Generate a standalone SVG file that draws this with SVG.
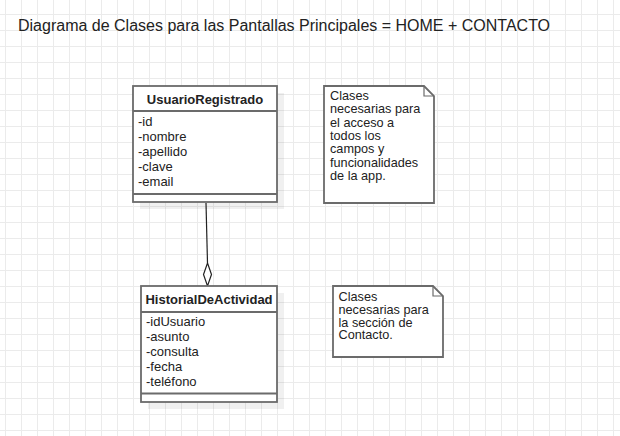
<svg xmlns="http://www.w3.org/2000/svg" width="620" height="436" viewBox="0 0 620 436">
<style>
text{font-family:"Liberation Sans",Arial,sans-serif;fill:#222}
.t{font-size:16px}
.h{font-size:13px;font-weight:bold;text-anchor:middle}
.a{font-size:13px}
.n{font-size:12.7px}
.box{fill:#fff;stroke:#6b6b6b;stroke-width:1.8}
.sh{fill:#000;fill-opacity:0.06}
.ln{fill:none;stroke:#6b6b6b;stroke-width:1.8}
.con{fill:none;stroke:#222;stroke-width:1.2}
</style>
<defs>
<pattern id="grid" patternUnits="userSpaceOnUse" x="5" y="14" width="16" height="16">
<rect x="0" y="0" width="16" height="1" fill="#ebebeb"/>
<rect x="0" y="0" width="1" height="16" fill="#ebebeb"/>
</pattern>
</defs>
<rect width="620" height="436" fill="#fff"/>
<rect width="620" height="436" fill="url(#grid)"/>
<text class="t" x="18" y="31">Diagrama de Clases para las Pantallas Principales = HOME + CONTACTO</text>
<g id="connectors">
<path class="con" d="M206,203 L207.5,263"/>
<path class="con" d="M207.5,263 L211.5,274.5 L207.5,286 L203.5,274.5 Z" fill="#fff" style="fill:#fff"/>
</g>
<g id="UsuarioRegistrado">
<rect class="sh" x="140" y="93" width="144" height="116"/>
<rect class="box" x="133" y="86" width="144" height="116"/>
<path class="ln" d="M133,111 H277 M133,194 H277"/>
<text class="h" x="205" y="103.5">UsuarioRegistrado</text>
<text class="a" x="138" y="126">-id</text>
<text class="a" x="138" y="141">-nombre</text>
<text class="a" x="138" y="156">-apellido</text>
<text class="a" x="138" y="171">-clave</text>
<text class="a" x="138" y="186">-email</text>
</g>
<g id="HistorialDeActividad">
<rect class="sh" x="148" y="293" width="136" height="116"/>
<rect class="box" x="141" y="286" width="136" height="116"/>
<path class="ln" d="M141,312 H277 M141,393.5 H277"/>
<text class="h" x="209" y="304">HistorialDeActividad</text>
<text class="a" x="146" y="326">-idUsuario</text>
<text class="a" x="146" y="341">-asunto</text>
<text class="a" x="146" y="356">-consulta</text>
<text class="a" x="146" y="371">-fecha</text>
<text class="a" x="146" y="386">-teléfono</text>
</g>
<g id="note1">
<path class="box" d="M324,86 H424 L434,96 V203 H324 Z"/>
<path class="ln" d="M424,86 V96 H434" style="stroke-width:1.2"/>
<text class="n" x="330" y="100">Clases</text>
<text class="n" x="330" y="113.3">necesarias para</text>
<text class="n" x="330" y="126.6">el acceso a</text>
<text class="n" x="330" y="140">todos los</text>
<text class="n" x="330" y="153.3">campos y</text>
<text class="n" x="330" y="166.6">funcionalidades</text>
<text class="n" x="330" y="180">de la app.</text>
</g>
<g id="note2">
<path class="box" d="M333,286 H433 L443,296 V357 H333 Z"/>
<path class="ln" d="M433,286 V296 H443" style="stroke-width:1.2"/>
<text class="n" x="338.5" y="300.7">Clases</text>
<text class="n" x="338.5" y="313.6">necesarias para</text>
<text class="n" x="338.5" y="326.5">la sección de</text>
<text class="n" x="338.5" y="339.4">Contacto.</text>
</g>
</svg>
